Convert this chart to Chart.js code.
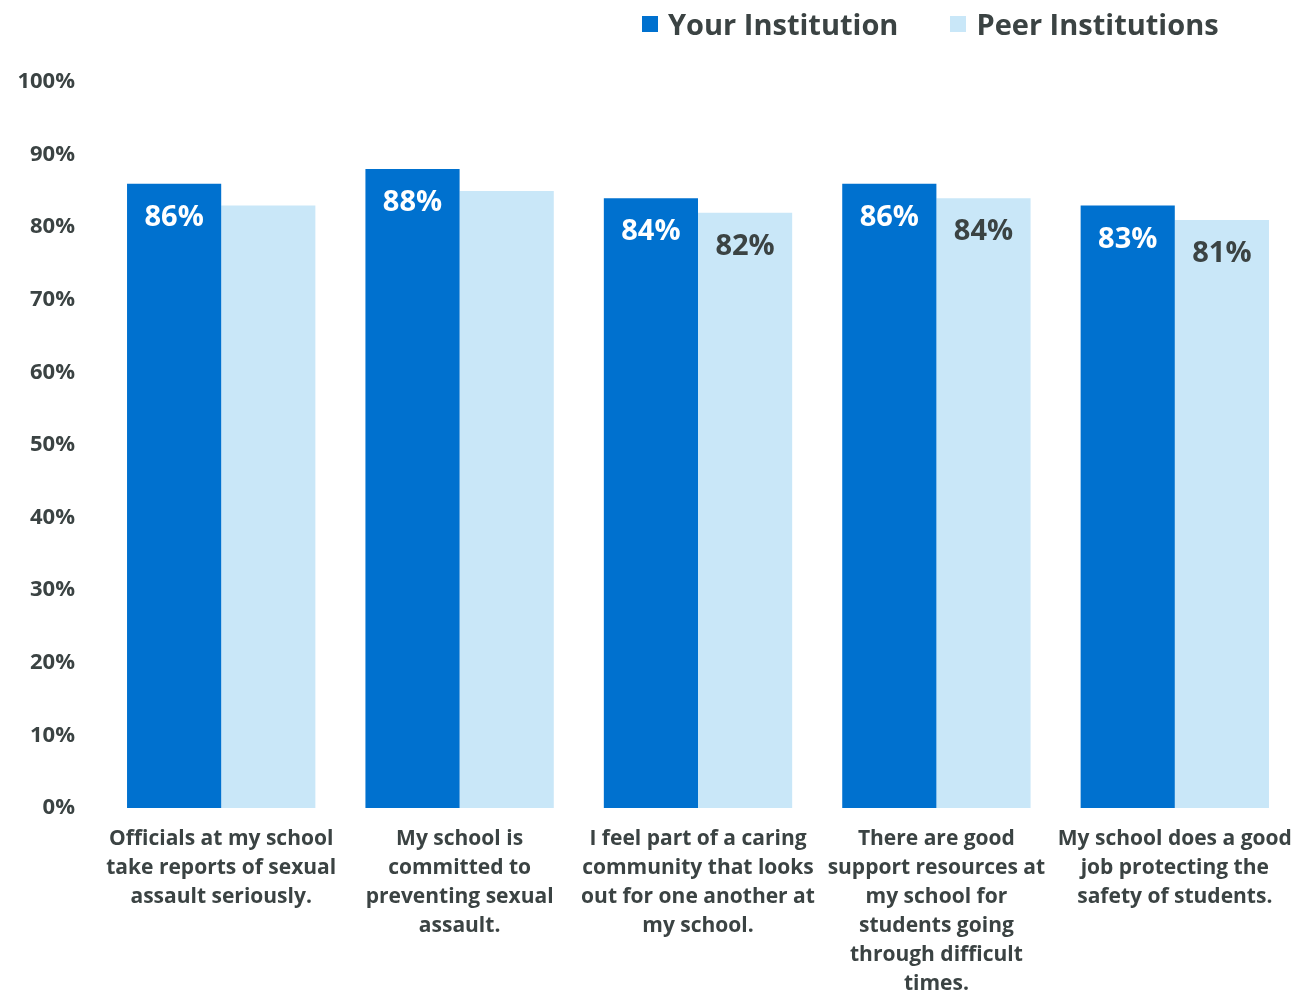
<!DOCTYPE html>
<html>
<head>
<meta charset="utf-8">
<title>Campus climate</title>
<script src="https://cdn.jsdelivr.net/npm/chart.js@4.4.0/dist/chart.umd.min.js"></script>
<style>
    html, body { margin: 0; padding: 0; background: #fff; }
    #wrap { position: relative; width: 1296px; height: 993px; }
    #legend {
        position: absolute; top: 4px; left: 642px;
        display: flex; align-items: center;
        font-family: 'Open Sans', sans-serif; font-weight: 700;
        font-size: 29px; color: #3b4343;
    }
    .item { display: flex; align-items: center; margin-right: 52px; }
    .swatch { width: 16px; height: 16px; margin-right: 10px; }
</style>
</head>
<body>
<div id="wrap">
    <canvas id="barChart" width="1296" height="993"></canvas>
    <div id="legend"></div>
</div>
<script>
// Survey items (wrapped as shown under each group)
const categories = [
    ['Officials at my school', 'take reports of sexual', 'assault seriously.'],
    ['My school is', 'committed to', 'preventing sexual', 'assault.'],
    ['I feel part of a caring', 'community that looks', 'out for one another at', 'my school.'],
    ['There are good', 'support resources at', 'my school for', 'students going', 'through difficult', 'times.'],
    ['My school does a good', 'job protecting the', 'safety of students.']
];

// Percent agreeing
const yourInstitution = [86, 88, 84, 86, 83];
const peerInstitutions = [83, 85, 82, 84, 81];

// Value labels are only printed on some peer bars
const peerLabelShown = [false, false, true, true, true];

const yTicks = [0, 10, 20, 30, 40, 50, 60, 70, 80, 90, 100];

const COLOR_YOUR = '#0071cf';
const COLOR_PEER = '#c9e7f8';
const TEXT_DARK = '#3b4343';
const FONT = "'Open Sans', sans-serif";

// Build html legend
const legendEl = document.getElementById('legend');
[['Your Institution', COLOR_YOUR], ['Peer Institutions', COLOR_PEER]].forEach(([name, color]) => {
    const item = document.createElement('div');
    item.className = 'item';
    item.innerHTML = `<span class="swatch" style="background:${color}"></span><span>${name}</span>`;
    legendEl.appendChild(item);
});

// Draw value labels just inside the top of each bar
const valueLabels = {
    id: 'valueLabels',
    afterDatasetsDraw(chart) {
        const ctx = chart.ctx;
        ctx.save();
        ctx.font = `700 29px ${FONT}`;
        ctx.textAlign = 'center';
        ctx.textBaseline = 'middle';
        chart.data.datasets.forEach((ds, di) => {
            const meta = chart.getDatasetMeta(di);
            meta.data.forEach((bar, i) => {
                if (di === 1 && !peerLabelShown[i]) return;
                ctx.fillStyle = di === 0 ? '#ffffff' : TEXT_DARK;
                ctx.fillText(ds.data[i] + '%', bar.x, bar.y + 34);
            });
        });
        ctx.restore();
    }
};

const ctx = document.getElementById('barChart').getContext('2d');
new Chart(ctx, {
    type: 'bar',
    data: {
        labels: categories,
        datasets: [
            {
                label: 'Your Institution',
                data: yourInstitution,
                backgroundColor: COLOR_YOUR
            },
            {
                label: 'Peer Institutions',
                data: peerInstitutions,
                backgroundColor: COLOR_PEER
            }
        ]
    },
    options: {
        responsive: false,
        animation: false,
        layout: { padding: { top: 82, right: 2, left: 0, bottom: 0 } },
        datasets: {
            bar: { categoryPercentage: 0.79, barPercentage: 1.0 }
        },
        plugins: {
            legend: { display: false },
            tooltip: { enabled: false }
        },
        scales: {
            x: {
                grid: { display: false, drawTicks: false },
                border: { display: false },
                ticks: {
                    color: TEXT_DARK,
                    font: { family: FONT, size: 21, weight: '700', lineHeight: 1.38 },
                    padding: 17,
                    maxRotation: 0,
                    autoSkip: false
                },
                afterFit(scale) {
                    // labels may run to the canvas edge; don't shrink the plot for them
                    scale.height = 185;
                    scale.paddingLeft = 0;
                    scale.paddingRight = 0;
                }
            },
            y: {
                min: 0,
                max: 100,
                afterBuildTicks(scale) { scale.ticks = yTicks.map(v => ({ value: v })); },
                grid: { display: false, drawTicks: false },
                border: { display: false },
                ticks: {
                    color: TEXT_DARK,
                    font: { family: FONT, size: 22, weight: '700' },
                    padding: 27,
                    callback: v => v + '%'
                },
                afterFit(scale) { scale.width = 102; }
            }
        }
    },
    plugins: [valueLabels]
});
</script>
</body>
</html>
